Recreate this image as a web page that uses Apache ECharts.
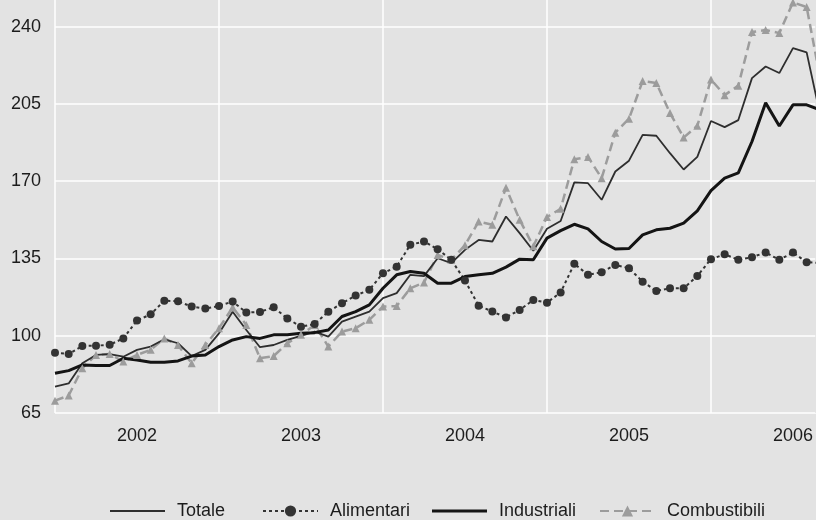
<!DOCTYPE html>
<html>
<head>
<meta charset="utf-8">
<script src="https://cdn.jsdelivr.net/npm/echarts@6/dist/echarts.min.js"></script>
<style>
html,body{margin:0;padding:0;background:#e3e3e3;}
#c{width:816px;height:520px;}
</style>
</head>
<body>
<div id="c"></div>
<script>
const years = ['2002','2003','2004','2005','2006'];
const months = [
 '2002-01','2002-02','2002-03','2002-04','2002-05','2002-06','2002-07','2002-08','2002-09','2002-10','2002-11','2002-12',
 '2003-01','2003-02','2003-03','2003-04','2003-05','2003-06','2003-07','2003-08','2003-09','2003-10','2003-11','2003-12',
 '2004-01','2004-02','2004-03','2004-04','2004-05','2004-06','2004-07','2004-08','2004-09','2004-10','2004-11','2004-12',
 '2005-01','2005-02','2005-03','2005-04','2005-05','2005-06','2005-07','2005-08','2005-09','2005-10','2005-11','2005-12',
 '2006-01','2006-02','2006-03','2006-04','2006-05','2006-06','2006-07','2006-08','2006-09'
];
const yTicks = [65, 100, 135, 170, 205, 240];

const totale = [76.9,78.4,87.5,91.3,91.7,90.5,93.6,95.1,98.4,96.6,90.8,93.6,
 101.1,110.9,102.6,94.8,95.8,98.1,99.9,101.9,99.6,106.4,108.7,110.9,
 117.0,119.3,127.6,127.0,135.1,132.9,138.9,143.4,142.7,154.0,146.5,138.5,
 148.5,152.0,169.5,169.1,161.6,174.4,179.3,191.0,190.6,182.7,175.3,181.0,
 197.3,194.5,197.7,216.7,222.0,219.0,230.3,228.4,199.6];
const alimentari = [92.3,91.7,95.4,95.5,95.9,98.8,106.9,109.7,115.9,115.6,113.2,112.3,
 113.5,115.5,110.5,110.8,112.9,107.8,104.1,105.3,110.9,114.7,118.2,120.8,
 128.3,131.3,141.2,142.7,139.2,134.4,125.0,113.6,111.0,108.3,111.7,116.2,
 115.0,119.6,132.6,127.6,128.8,132.1,130.6,124.5,120.3,121.5,121.5,127.1,
 134.7,136.9,134.4,135.6,137.7,134.4,137.7,133.3,133.0];
const industriali = [83.0,84.2,86.8,86.5,86.5,89.8,89.0,88.0,88.0,88.6,90.8,91.3,
 95.1,98.1,99.6,98.8,100.4,100.4,101.1,101.4,102.6,108.7,110.9,114.0,
 121.5,127.6,129.1,128.3,123.8,123.8,126.8,127.6,128.3,131.1,134.7,134.4,
 144.2,147.6,150.5,148.4,142.7,139.3,139.5,145.7,148.0,148.7,151.0,156.6,
 165.7,171.4,173.8,188.0,205.5,195.0,204.6,204.6,202.3];
const combustibili = [70.6,72.9,85.3,91.3,91.7,88.3,91.3,93.6,98.8,95.8,87.5,95.8,
 103.4,112.9,104.9,89.8,90.8,96.6,100.4,104.9,95.1,101.9,103.4,107.2,
 113.2,113.5,121.5,124.1,136.6,134.4,141.0,151.7,150.3,167.0,152.5,140.5,
 153.8,157.5,180.0,181.0,171.4,192.0,198.3,215.4,214.5,200.9,189.8,195.1,
 216.1,209.0,213.3,237.6,238.5,237.1,251.0,248.9,216.3];

const BG = '#e3e3e3';
const TXT = '#1c1c1c';
const FONT = 'Liberation Sans';
const X_MAX = 55.68;   // visible span of months (chart is cut at the right edge)

// pair each value with its month position on the month axis
const toPts = arr => arr.map((v, i) => [months.indexOf(months[i]), v]);

const chart = echarts.init(document.getElementById('c'), null, {renderer: 'canvas'});

function legend(item, left, h) {
  return {
    data: [item], left: left, top: 497, itemWidth: 55, itemHeight: h,
    selectedMode: false,
    textStyle: {fontFamily: FONT, fontSize: 18, color: TXT, padding: [0, 0, 0, 7]}
  };
}

chart.setOption({
  animation: false,
  backgroundColor: BG,
  grid: {left: 55, top: 0, right: 0, height: 413, containLabel: false},
  legend: [
    legend({name: 'Totale', icon: 'rect'}, 105, 2),
    legend({name: 'Alimentari'}, 257, 14),
    legend({name: 'Industriali', icon: 'rect'}, 427, 3),
    legend({name: 'Combustibili'}, 594, 14)
  ],
  xAxis: [
    {
      type: 'value', min: 0, max: X_MAX, interval: 12,
      axisLine: {show: false}, axisTick: {show: false}, axisLabel: {show: false},
      splitLine: {show: true, lineStyle: {color: ['#fff','#fff','#fff','#fff','#fff', BG], width: 1.5}}
    },
    {
      type: 'value', min: 0, max: X_MAX, interval: 6, position: 'bottom',
      axisLine: {show: false}, axisTick: {show: false}, splitLine: {show: false},
      axisLabel: {
        fontFamily: FONT, fontSize: 18, color: TXT, margin: 14, showMaxLabel: false,
        formatter: v => (v % 12 === 6 ? years[(v - 6) / 12] : '')
      }
    }
  ],
  yAxis: {
    type: 'value', min: yTicks[0], max: 252.1, interval: yTicks[1] - yTicks[0],
    axisLine: {show: false}, axisTick: {show: false},
    axisLabel: {fontFamily: FONT, fontSize: 18, color: TXT, margin: 14, showMaxLabel: false},
    splitLine: {lineStyle: {color: ['#fff','#fff','#fff','#fff','#fff','#fff', BG], width: 1.5}}
  },
  series: [
    {
      name: 'Combustibili', type: 'line', data: toPts(combustibili),
      symbol: 'triangle', symbolSize: 8,
      itemStyle: {color: '#9c9c9c'},
      lineStyle: {color: '#9c9c9c', width: 2.5, type: [9, 5]}
    },
    {
      name: 'Alimentari', type: 'line', data: toPts(alimentari),
      symbol: 'circle', symbolSize: 8,
      itemStyle: {color: '#333333'},
      lineStyle: {color: '#333333', width: 2, type: [3, 3]}
    },
    {
      name: 'Totale', type: 'line', data: toPts(totale),
      symbol: 'none',
      itemStyle: {color: '#2e2e2e'},
      lineStyle: {color: '#2e2e2e', width: 1.8}
    },
    {
      name: 'Industriali', type: 'line', data: toPts(industriali),
      symbol: 'none',
      itemStyle: {color: '#141414'},
      lineStyle: {color: '#141414', width: 3}
    }
  ]
});
</script>
</body>
</html>
